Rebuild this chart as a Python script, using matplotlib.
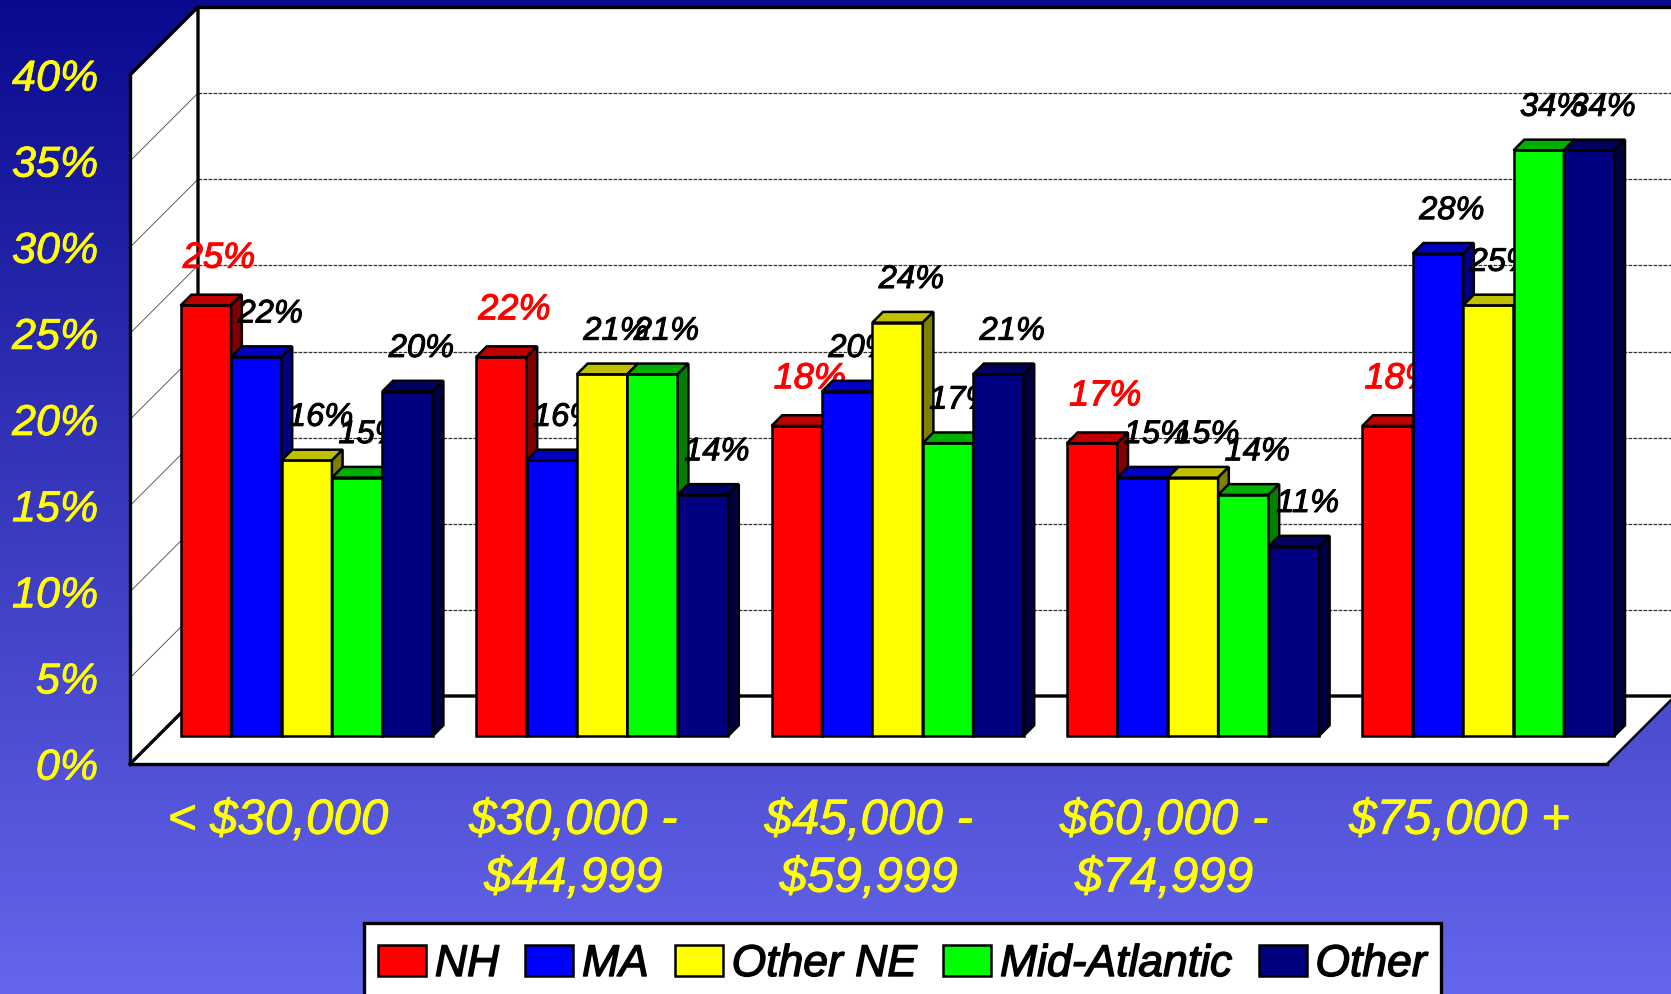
import numpy as np
import matplotlib
matplotlib.use('Agg')
import matplotlib.pyplot as plt
import matplotlib.patheffects as pe
from matplotlib.patches import Rectangle

plt.rcParams['font.family'] = ['Liberation Sans', 'DejaVu Sans']
plt.rcParams['font.style'] = 'italic'

categories = ['< $30,000', '$30,000 -\n$44,999', '$45,000 -\n$59,999', '$60,000 -\n$74,999', '$75,000 +']
series_names = ['NH', 'MA', 'Other NE', 'Mid-Atlantic', 'Other']
nh = [25, 22, 18, 17, 18]
ma = [22, 16, 20, 15, 28]
other_ne = [16, 21, 24, 15, 25]
mid_atlantic = [15, 21, 17, 14, 34]
other = [20, 14, 21, 11, 34]
y_ticks = [0, 5, 10, 15, 20, 25, 30, 35, 40]

front_colors = ['#ff0000', '#0000ff', '#ffff00', '#00ff00', '#000080']
top_colors = ['#c00000', '#0000c0', '#c0c000', '#00b000', '#000060']
side_colors = ['#800000', '#000080', '#808000', '#008000', '#000040']

W, H = 1671, 995
fig = plt.figure(figsize=(W / 100, H / 100), dpi=100)

# background gradient
bg = fig.add_axes([0, 0, 1, 1], zorder=-1)
bg.imshow(np.linspace(0, 1, 256).reshape(-1, 1), aspect='auto', extent=(0, 1, 0, 1),
          cmap=matplotlib.colors.LinearSegmentedColormap.from_list('b', ['#0a0a8e', '#6666ec']))
bg.axis('off')

# axes = front plane of the fake 3d box
left, right, bottom, top = 130, 1607, 765, 76
ax = fig.add_axes([left / W, (H - bottom) / H, (right - left) / W, (bottom - top) / H])
ax.patch.set_visible(False)
ax.set_xlim(-0.5, 4.5)
ax.set_ylim(0, 40)
px_x = 5 / (right - left)
px_y = 40 / (bottom - top)

x0, x1 = -0.5, 4.5
wall_dx, wall_dy = 68 * px_x, 68 * px_y
ax.fill([x0, x0 + wall_dx, x0 + wall_dx, x0], [0, wall_dy, 40 + wall_dy, 40], color='white', clip_on=False, zorder=1)
ax.fill([x0 + wall_dx, x1 + wall_dx, x1 + wall_dx, x0 + wall_dx], [wall_dy, wall_dy, 40 + wall_dy, 40 + wall_dy],
        color='white', clip_on=False, zorder=1)
ax.fill([x0, x1, x1 + wall_dx, x0 + wall_dx], [0, 0, wall_dy, wall_dy], color='white', clip_on=False, zorder=1)

for v in y_ticks[1:-1]:
    ax.plot([x0 + wall_dx, x1 + wall_dx], [v + wall_dy, v + wall_dy], color='#333333', lw=0.9, ls=(0, (3, 1)),
            clip_on=False, zorder=2)
    ax.plot([x0, x0 + wall_dx], [v, v + wall_dy], color='#444444', lw=0.6, clip_on=False, zorder=2)

line_kw = dict(color='black', lw=2.4, clip_on=False, zorder=3, solid_capstyle='projecting')
ax.plot([x0, x0 + wall_dx, x0 + wall_dx], [40, 40 + wall_dy, wall_dy], **line_kw)
ax.plot([x0 + wall_dx, x1 + wall_dx], [40 + wall_dy, 40 + wall_dy], **line_kw)
ax.plot([x0, x0 + wall_dx, x1 + wall_dx], [0, wall_dy, wall_dy], **line_kw)
ax.plot([x1, x1 + wall_dx], [0, wall_dy], color='black', lw=1.8, clip_on=False, zorder=3)

for s in ['top', 'right']:
    ax.spines[s].set_visible(False)
for s in ['left', 'bottom']:
    ax.spines[s].set_linewidth(2.4)
    ax.spines[s].set_zorder(4)

ax.set_xticks(range(len(categories)))
ax.set_xticklabels(categories, fontsize=35.5, color='#ffff00', linespacing=1.37)
ax.set_yticks(y_ticks)
ax.set_yticklabels(['{}%'.format(v) for v in y_ticks], fontsize=31, color='#ffff00')
ax.tick_params(axis='x', length=0, pad=25)
ax.tick_params(axis='y', length=0, pad=23)
for t in ax.get_yticklabels() + ax.get_xticklabels():
    t.set_path_effects([pe.withStroke(linewidth=0.6, foreground='#ffff00')])

# bars sit part way into the box
bar_w = 50.4 * px_x
front_dx, front_dy = 29 * px_x, 28 * px_y
bar_dx, bar_dy = 10.7 * px_x, 10.7 * px_y
all_series = [nh, ma, other_ne, mid_atlantic, other]

z = 10
handles = []
for i in range(len(categories)):
    for j, vals in enumerate(all_series):
        val = vals[i]
        xl = i + (j - 2.5) * bar_w + front_dx
        xr = xl + bar_w
        yb = front_dy
        yt = yb + val
        bars = ax.bar(xl, val, bar_w, bottom=yb, align='edge', color=front_colors[j], edgecolor='black',
                      linewidth=1.8, zorder=z, clip_on=False)
        ax.fill([xl, xl + bar_dx, xr + bar_dx, xr], [yt, yt + bar_dy, yt + bar_dy, yt], facecolor=top_colors[j],
                edgecolor='black', linewidth=1.8, zorder=z, clip_on=False)
        ax.fill([xr, xr + bar_dx, xr + bar_dx, xr], [yb, yb + bar_dy, yt + bar_dy, yt], facecolor=side_colors[j],
                edgecolor='black', linewidth=1.8, zorder=z, clip_on=False)
        if i == 0:
            handles.append(bars)
        if j == 0:
            lab = ax.annotate('{}%'.format(val), (xl + bar_w / 2, yt), xytext=(9.5, 34), textcoords='offset points',
                              ha='center', va='center', fontsize=26, color='#ff0000', zorder=z + 1)
            lab.set_path_effects([pe.withStroke(linewidth=0.8, foreground='#ff0000')])
        else:
            lab = ax.annotate('{}%'.format(val), (xl + bar_w / 2, yt), xytext=(10, 31), textcoords='offset points',
                              ha='center', va='center', fontsize=23.5, color='black', zorder=z + 1)
            lab.set_path_effects([pe.withStroke(linewidth=0.7, foreground='black')])
        z += 2

# legend box runs off the bottom of the figure
ax.add_patch(Rectangle((364 / W, -0.02), (1441 - 364) / W, (H - 924) / H + 0.02, transform=fig.transFigure,
                       facecolor='white', edgecolor='black', linewidth=2.4, clip_on=False, zorder=199))
leg = ax.legend(handles, series_names, loc='upper left', bbox_to_anchor=(378 / W, (H - 945) / H),
                bbox_transform=fig.transFigure, ncol=5, fontsize=32, frameon=False,
                borderaxespad=0, borderpad=0, handlelength=1.08, handleheight=0.7,
                handletextpad=0.2, columnspacing=0.585)
leg.set_zorder(200)
for t in leg.get_texts():
    t.set_path_effects([pe.withStroke(linewidth=1.0, foreground='black')])

fig.savefig('out.png', dpi=100)
